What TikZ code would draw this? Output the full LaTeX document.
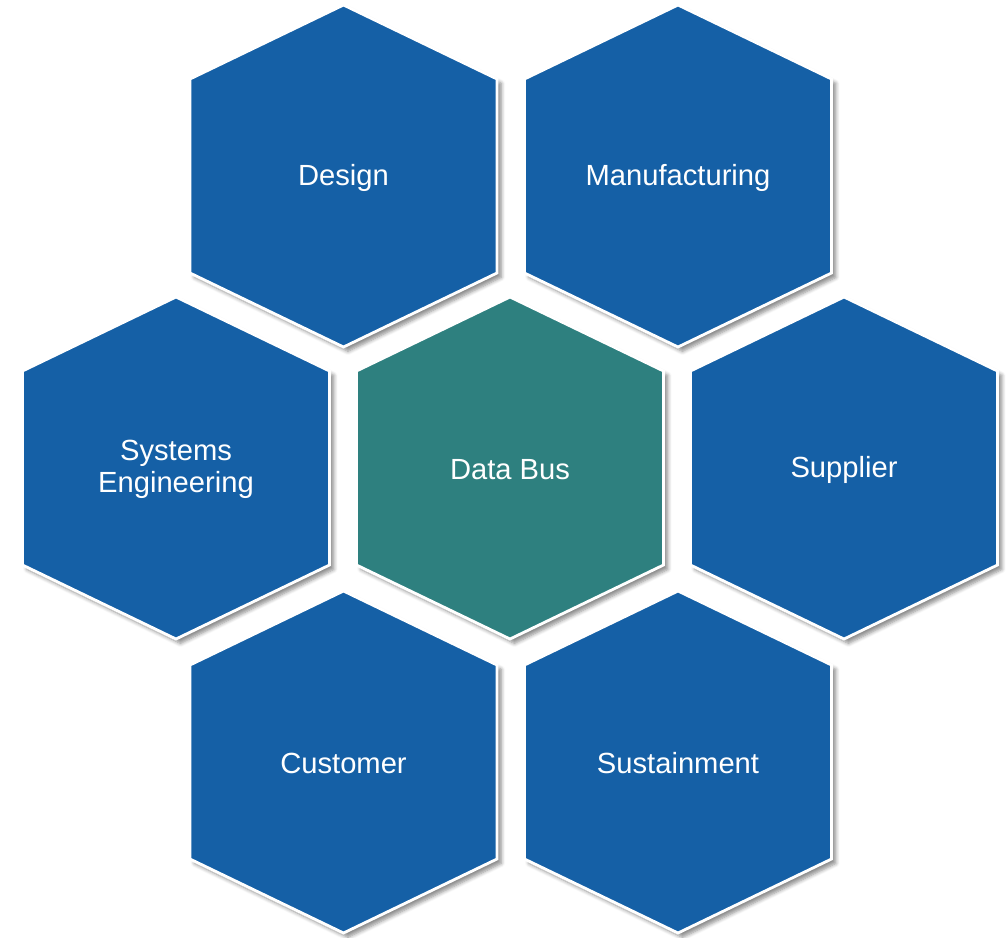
\documentclass[tikz,border=0pt]{standalone}
\usepackage{fontspec}
\setmainfont{Liberation Sans}
\usetikzlibrary{shadows.blur}

\definecolor{hexblue}{HTML}{1560A6}
\definecolor{hexteal}{HTML}{2E807F}

\tikzset{
  hexa/.style={fill=#1, draw=white, line width=1.6pt, line join=miter,
    blur shadow={shadow xshift=2.5pt, shadow yshift=-2.5pt, shadow blur steps=6, shadow opacity=45}},
  hexa/.default=hexblue,
  label/.style={text=white, align=center, font=\fontsize{16.6}{18.2}\selectfont}
}

\begin{document}
\begin{tikzpicture}[x=0.02cm,y=-0.02cm]

\useasboundingbox (0,0) rectangle (1007,937);

% the outer ring, then the hub in the middle
\foreach \name/\x/\y/\col/\txt in {design/343.5/176/hexblue/Design, manuf/678/176/hexblue/Manufacturing,
    syseng/176/468/hexblue/{Systems\\Engineering}, supplier/844/468/hexblue/Supplier,
    customer/343.5/762/hexblue/Customer, sustain/678/762/hexblue/Sustainment,
    databus/510/468/hexteal/Data Bus}{
    \draw[hexa=\col] (\x,\y) ++(0,-171) -- ++(153.5,74) -- ++(0,194) -- ++(-153.5,74) -- ++(-153.5,-74) -- ++(0,-194) -- cycle;
    \node[label] (\name) at (\x,\y+1.5) {\txt};
}

\end{tikzpicture}
\end{document}
